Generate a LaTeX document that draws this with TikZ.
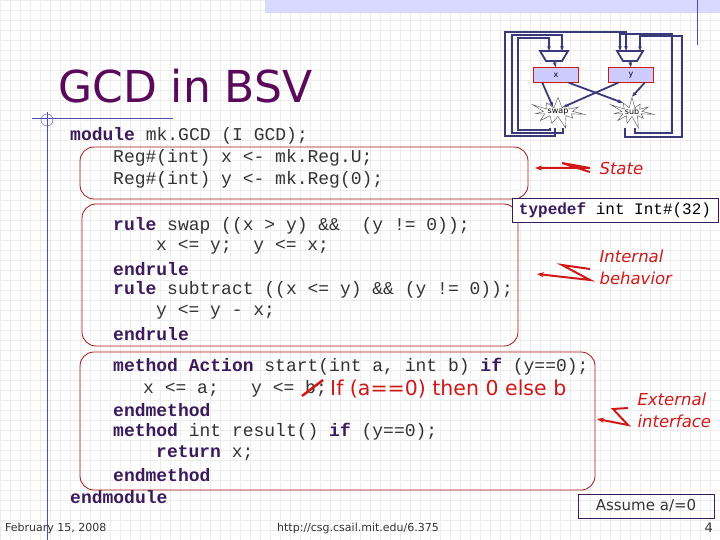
\documentclass[tikz,border=0pt]{standalone}
\usepackage{fontspec}
\setmainfont{DejaVu Sans}
\newfontfamily\codefont{Liberation Mono}
\usetikzlibrary{positioning,shapes.symbols,arrows.meta}
\definecolor{kw}{HTML}{3A1A5A}
\definecolor{ttl}{HTML}{5A0A5A}
\definecolor{note}{HTML}{D01818}
\definecolor{wire}{HTML}{3A3A7A}
\tikzset{
  code/.style={anchor=west,inner sep=0pt,font=\codefont\fontsize{18}{18}\selectfont,text=black!80},
  blk/.style={draw=note!80!black,rounded corners=14pt,thick},
  tag/.style={anchor=west,align=left,text=note,font=\itshape\fontsize{16.5}{22}\selectfont},
  zig/.style={draw=note,line width=2pt,-{Stealth[length=7pt]}},
  reg/.style={draw=note,fill=blue!20,minimum width=45pt,minimum height=15pt,inner sep=0pt,font=\fontsize{8}{8}\selectfont},
  unit/.style={starburst,draw=black!70,fill=white,starburst points=11,minimum width=42pt,minimum height=30pt,inner sep=0pt,font=\fontsize{8}{8}\selectfont},
  w/.style={draw=wire,line width=1.8pt},
  foot/.style={font=\fontsize{11}{11}\selectfont,text=black!80}
}
\newcommand{\kw}[1]{\textbf{\textcolor{kw}{#1}}}
\begin{document}
\begin{tikzpicture}[x=1pt,y=-1pt]
\useasboundingbox (0,0) rectangle (720,540);
% background
\draw[black!7,step=10pt] (0,0) grid (720,540);
\fill[blue!15] (265,0) rectangle (720,13);
\draw[blue!40!gray] (697,0) -- (697,45);
\draw[blue!40!gray] (32,118) -- (173,118);
\draw[blue!40!gray] (47,112) -- (47,540);
\draw[blue!40!gray] (47,120) circle (6);
\node[anchor=west,inner sep=0pt,text=ttl,font=\fontsize{44}{44}\selectfont] (title) at (58,86) {GCD in BSV};

% circuit
\node[reg] (rx) at (556,75) {x};
\node[reg] (ry) at (631,75) {y};
\draw[w,fill=white] (540,51) -- (568,51) -- (562,61) -- (546,61) -- cycle;
\draw[w,fill=white] (617,51) -- (643,51) -- (637,61) -- (623,61) -- cycle;
\node[unit] (swap) at (558,112) {swap};
\node[unit] (sub) at (632,112) {sub};
\draw[w,-{Stealth[length=5pt]}] (554,61) -- (rx.north);
\draw[w,-{Stealth[length=5pt]}] (630,61) -- (ry.north);
\draw[w,-{Stealth[length=5pt]}] (rx.south west) ++(9,0) -- (swap.north west);
\draw[w,-{Stealth[length=5pt]}] (rx.south east) ++(-10,0) -- (sub.north west);
\draw[w,-{Stealth[length=5pt]}] (ry.south west) ++(10,0) -- (swap.north east);
\draw[w,-{Stealth[length=5pt]}] (ry.south east) ++(-9,0) -- (sub.north);
\draw[w,-{Stealth[length=5pt]}] (555,128) -- (555,136) -- (505,136) -- (505,32) -- (626,32) -- (626,51);
\draw[w,-{Stealth[length=5pt]}] (550,128) -- (550,130) -- (518,130) -- (518,38) -- (549,38) -- (549,51);
\draw[w,-{Stealth[length=5pt]}] (563,128) -- (563,133) -- (512,133) -- (512,35) -- (562,35) -- (562,51);
\draw[w,-{Stealth[length=5pt]}] (625,128) -- (625,137) -- (682,137) -- (682,36) -- (640,36) -- (640,51);
\draw[w,-{Stealth[length=5pt]}] (635,128) -- (635,133) -- (672,133) -- (672,34) -- (620,34) -- (620,51);

% code
\node[code] (l1) at (70,136) {\kw{module} mk.GCD (I GCD);};
\node[code] (l2) at (113,158) {Reg\#(int) x <- mk.Reg.U;};
\node[code] (l3) at (113,180) {Reg\#(int) y <- mk.Reg(0);};
\node[code] (l4) at (113,226) {\kw{rule} swap ((x > y) \&\&\ \ (y != 0));};
\node[code] (l5) at (156,247) {x <= y;\ \ y <= x;};
\node[code] (l6) at (113,269) {\kw{endrule}};
\node[code] (l7) at (113,290) {\kw{rule} subtract ((x <= y) \&\& (y != 0));};
\node[code] (l8) at (156,312) {y <= y - x;};
\node[code] (l9) at (113,334) {\kw{endrule}};
\node[code] (l10) at (113,367) {\kw{method} \kw{Action} start(int a, int b) \kw{if} (y==0);};
\node[code] (l11) at (143,389) {x <= a;\ \ \ y <= b;};
\node[code] (l12) at (113,410) {\kw{endmethod}};
\node[code] (l13) at (113,432) {\kw{method} int result() \kw{if} (y==0);};
\node[code] (l14) at (156,453) {\kw{return} x;};
\node[code] (l15) at (113,475) {\kw{endmethod}};
\node[code] (l16) at (70,497) {\kw{endmodule}};
\draw[note,line width=2.5pt] (302,396) -- (323,380);
\node[anchor=west,inner sep=0pt,text=note,font=\fontsize{20.5}{20.5}\selectfont] (cond) at (330,389) {If (a==0) then 0 else b};

% blocks
\draw[blk] (80,147) rectangle (528,199);
\draw[blk] (82,204) rectangle (518,346);
\draw[blk] (80,352) rectangle (595,490);
\node[draw=kw,fill=white,thick,minimum width=206pt,minimum height=24pt,inner sep=0pt,font=\codefont\fontsize{16}{16}\selectfont] (tdef) at (615,210) {\kw{typedef} int Int\#(32)};

% tags
\node[tag] (state) at (596,168) {State};
\node[tag] (intern) at (596,267) {Internal\\behavior};
\node[tag] (extern) at (634,410) {External\\interface};
\coordinate (s1) at (590,172);
\coordinate (s2) at (562,163);
\coordinate (s3) at (590,168);
\coordinate (s4) at (535,168);
\draw[zig] (s1) -- (s2) -- (s3) -- (s4);
\coordinate (i1) at (590,269);
\coordinate (i2) at (562,265);
\coordinate (i3) at (590,280);
\coordinate (i4) at (537,274);
\draw[zig] (i1) -- (i2) -- (i3) -- (i4);
\coordinate (e1) at (628,408);
\coordinate (e2) at (613,409);
\coordinate (e3) at (628,425);
\coordinate (e4) at (597,419);
\draw[zig] (e1) -- (e2) -- (e3) -- (e4);

% footer
\node[draw=kw,minimum width=136pt,minimum height=24pt,inner sep=0pt,font=\fontsize{15}{15}\selectfont,text=black!80] (assume) at (646,506) {Assume a/=0};
\node[foot,anchor=west,inner sep=0pt] (date) at (5,528) {February 15, 2008};
\node[foot,inner sep=0pt] (url) at (358,528) {http://csg.csail.mit.edu/6.375};
\node[foot,anchor=east,inner sep=0pt,font=\fontsize{13}{13}\selectfont] (page) at (713,528) {4};
\end{tikzpicture}
\end{document}
